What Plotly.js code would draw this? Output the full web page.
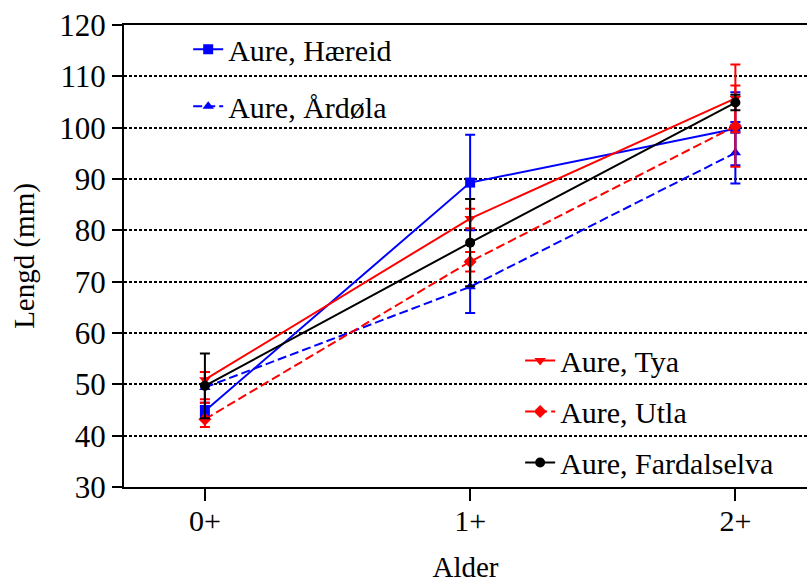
<!DOCTYPE html>
<html>
<head>
<meta charset="utf-8">
<script src="https://cdn.plot.ly/plotly-3.0.1.min.js"></script>
<style>html,body{margin:0;padding:0;background:#fff;}#chart{width:807px;height:583px;}</style>
</head>
<body>
<div id="chart"></div>
<script>
var ages = ['0+', '1+', '2+'];

var haereid = [44.8, 89.3, 99.8];
var haereidErrUp = [1.0, 9.3, 7.1];
var haereidErrDown = [1.0, 9.3, 7.1];

var ardola = [49.4, 69.0, 95.1];
var ardolaErrUp = [3.0, 5.1, 6.0];
var ardolaErrDown = [3.0, 5.1, 6.0];

var tya = [50.9, 82.3, 105.7];
var tyaErrUp = [1.5, 1.9, 6.6];
var tyaErrDown = [3.8, 1.9, 6.6];

var utla = [43.2, 73.9, 100.3];
var utlaErrUp = [3.2, 1.9, 7.9];
var utlaErrDown = [1.5, 1.9, 7.9];

var fardal = [49.7, 77.6, 104.9];
var fardalErrUp = [6.3, 8.5, 1.5];
var fardalErrDown = [6.3, 8.5, 1.5];

var FONT = 'Liberation Serif, Times New Roman, serif';

function series(name, y, up, down, color, dash, symbol, legend, group) {
  return {
    type: 'scatter', mode: 'lines+markers', name: name,
    x: ages, y: y,
    line: {color: color, width: 2, dash: dash},
    marker: {color: color, size: 10, symbol: symbol},
    error_y: {type: 'data', symmetric: false, array: up, arrayminus: down, visible: true,
              color: color, thickness: 2, width: 5},
    legend: legend, legendgroup: group
  };
}

var data = [
  series('Aure, Hæreid', haereid, haereidErrUp, haereidErrDown, '#0000ff', 'solid', 'square', 'legend', 'g1'),
  series('Aure, Årdøla', ardola, ardolaErrUp, ardolaErrDown, '#0000ff', '9px,4px', 'triangle-up', 'legend', 'g2'),
  series('Aure, Tya', tya, tyaErrUp, tyaErrDown, '#ff0000', 'solid', 'triangle-down', 'legend2', 'g3'),
  series('Aure, Utla', utla, utlaErrUp, utlaErrDown, '#ff0000', '9px,4px', 'diamond', 'legend2', 'g4'),
  series('Aure, Fardalselva', fardal, fardalErrUp, fardalErrDown, '#000000', 'solid', 'circle', 'legend2', 'g5')
];

var layout = {
  width: 807, height: 583,
  margin: {l: 124, r: 0, t: 25, b: 96},
  paper_bgcolor: '#ffffff', plot_bgcolor: '#ffffff',
  font: {family: FONT, size: 29, color: '#000'},
  showlegend: true,
  xaxis: {
    type: 'category', range: [-0.305, 2.27],
    showgrid: false, zeroline: false,
    showline: true, linecolor: '#000', linewidth: 2, mirror: true,
    ticks: 'outside', ticklen: 12, tickwidth: 2, tickcolor: '#000',
    ticklabelstandoff: -6,
    tickfont: {family: FONT, size: 30, color: '#000'},
    title: {text: 'Alder', font: {family: FONT, size: 29, color: '#000'}, standoff: 24}
  },
  yaxis: {
    range: [30, 120], dtick: 10, tick0: 30,
    showgrid: true, gridcolor: '#000', gridwidth: 2, griddash: '3px,2px',
    zeroline: false,
    showline: true, linecolor: '#000', linewidth: 2,
    ticks: 'outside', ticklen: 10, tickwidth: 2, tickcolor: '#000',
    tickfont: {family: FONT, size: 31, color: '#000'},
    title: {text: 'Lengd (mm)', font: {family: FONT, size: 29, color: '#000'}, standoff: 16}
  },
  legend: {
    x: 0.094, y: 1.004, xanchor: 'left', yanchor: 'top',
    bgcolor: 'rgba(0,0,0,0)', borderwidth: 0,
    font: {family: FONT, size: 30, color: '#000'},
    tracegroupgap: 15, traceorder: 'grouped'
  },
  legend2: {
    x: 0.58, y: 0.330, xanchor: 'left', yanchor: 'top',
    bgcolor: 'rgba(0,0,0,0)', borderwidth: 0,
    font: {family: FONT, size: 30, color: '#000'},
    tracegroupgap: 9, traceorder: 'grouped'
  }
};

Plotly.newPlot('chart', data, layout, {displayModeBar: false, staticPlot: true});
</script>
</body>
</html>
